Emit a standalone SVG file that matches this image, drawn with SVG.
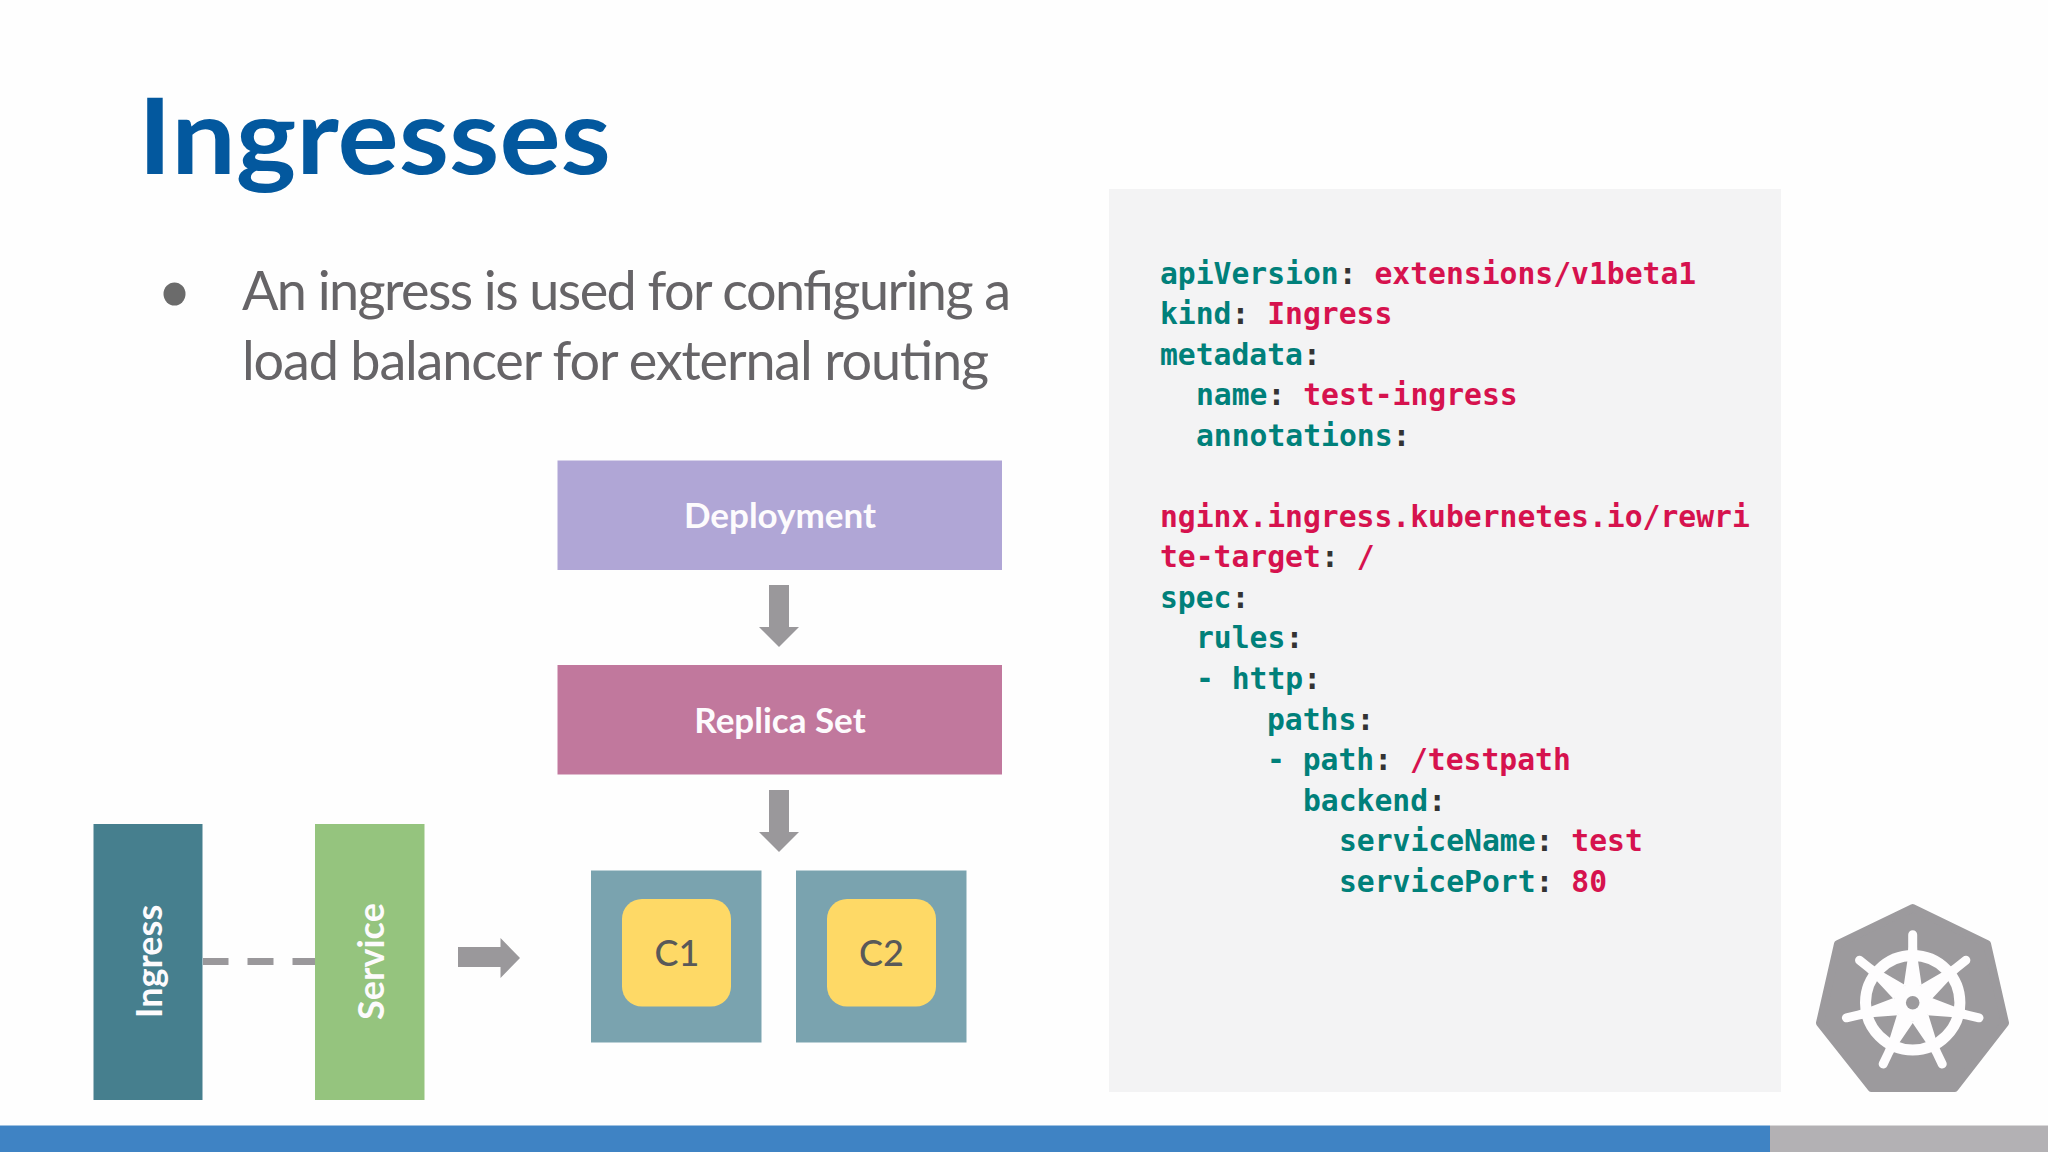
<svg xmlns="http://www.w3.org/2000/svg" xmlns:xlink="http://www.w3.org/1999/xlink" width="2048" height="1152" viewBox="0 0 2048 1152">
<style>
.lbl{font-family:"Lato","Liberation Sans",sans-serif;font-weight:700;font-size:35px;fill:#fdfbfd;text-anchor:middle}
.vl{font-size:36px}
.c{font-family:"Lato","Liberation Sans",sans-serif;font-weight:500;font-size:36px;fill:#595959;text-anchor:middle}
.code{font-family:"DejaVu Sans Mono","Liberation Mono",monospace;font-size:29.7px;font-weight:700}
.k{fill:#00807a}.v{fill:#d6124e}.p{fill:#333}
.arrow{fill:#9a989b}
.pod{fill:#7aa3af}.box{fill:#fed966}
</style>
<defs>
<path id="spoke" d="M-9-17L-5-44L-4.500-56L-4.500-68A4.500 4.500 0 0 1 4.500-68L4.500-56L5-44L9-17Z" fill="#fefdfe"/>
</defs>
<rect width="2048" height="1152" fill="#fefefe"/>
<text x="138" y="173.500" font-family="Lato,'Liberation Sans',sans-serif" font-weight="700" font-size="106" fill="#03589e" textLength="473" lengthAdjust="spacingAndGlyphs">Ingresses</text>
<ellipse cx="174.500" cy="294" rx="11" ry="11.500" fill="#6b6b6b"/>
<g font-family="Lato,'Liberation Sans',sans-serif" font-size="54" fill="#666467">
<text x="242" y="310" textLength="769" lengthAdjust="spacing">An ingress is used for configuring a</text>
<text x="242" y="380" textLength="747" lengthAdjust="spacing">load balancer for external routing</text>
</g>
<g id="connectors">
<path class="arrow" d="M769 585H789V627H799L779 647L759 627H769Z"/>
<path class="arrow" d="M769 790H789V832H799L779 852L759 832H769Z"/>
<path class="arrow" d="M458 947H500.500V938L520 958L500.500 978V967H458Z"/>
<path fill="none" stroke="#9a989b" stroke-width="7" d="M203 961.500H228.500M247.500 961.500H273.500M292.500 961.500H315"/>
</g>
<g id="deployment"><rect x="557.500" y="460.500" width="444.500" height="109.500" fill="#b0a6d6"/><text class="lbl" x="780" y="528">Deployment</text></g>
<g id="replicaset"><rect x="557.500" y="665" width="444.500" height="109.500" fill="#c1789d"/><text class="lbl" x="780" y="733">Replica Set</text></g>
<g id="ingress"><rect x="93.500" y="824" width="109" height="276" fill="#467f8e"/><text class="lbl vl" transform="translate(162 961.500) rotate(-90)">Ingress</text></g>
<g id="service"><rect x="315" y="824" width="109.500" height="276" fill="#95c47e"/><text class="lbl vl" transform="translate(384 961.500) rotate(-90)">Service</text></g>
<g id="pod1"><rect class="pod" x="591" y="870.500" width="170.500" height="172"/></g>
<g id="c1"><rect class="box" x="622" y="899" width="109" height="107.500" rx="20"/><text class="c" x="677" y="966">C1</text></g>
<g id="pod2"><rect class="pod" x="796" y="870.500" width="170.500" height="172"/></g>
<g id="c2"><rect class="box" x="827" y="899" width="109" height="107.500" rx="20"/><text class="c" x="881.500" y="966">C2</text></g>
<rect x="1109" y="189" width="672" height="903" fill="#f3f3f4"/>
<g class="code">
<text y="283.500"><tspan class="k" x="1160">apiVersion</tspan><tspan class="p">: </tspan><tspan class="v">extensions/v1beta1</tspan></text>
<text y="324"><tspan class="k" x="1160">kind</tspan><tspan class="p">: </tspan><tspan class="v">Ingress</tspan></text>
<text y="364.600"><tspan class="k" x="1160">metadata</tspan><tspan class="p">:</tspan></text>
<text y="405.100"><tspan class="k" x="1196">name</tspan><tspan class="p">: </tspan><tspan class="v">test-ingress</tspan></text>
<text y="445.700"><tspan class="k" x="1196">annotations</tspan><tspan class="p">:</tspan></text>
<text y="526.800"><tspan class="v" x="1160">nginx.ingress.kubernetes.io/rewri</tspan></text>
<text y="567.300"><tspan class="v" x="1160">te-target</tspan><tspan class="p">: </tspan><tspan class="v">/</tspan></text>
<text y="607.900"><tspan class="k" x="1160">spec</tspan><tspan class="p">:</tspan></text>
<text y="648.400"><tspan class="k" x="1196">rules</tspan><tspan class="p">:</tspan></text>
<text y="689"><tspan class="k" x="1196">- http</tspan><tspan class="p">:</tspan></text>
<text y="729.500"><tspan class="k" x="1267">paths</tspan><tspan class="p">:</tspan></text>
<text y="770"><tspan class="k" x="1267">- path</tspan><tspan class="p">: </tspan><tspan class="v">/testpath</tspan></text>
<text y="810.600"><tspan class="k" x="1303">backend</tspan><tspan class="p">:</tspan></text>
<text y="851.100"><tspan class="k" x="1339">serviceName</tspan><tspan class="p">: </tspan><tspan class="v">test</tspan></text>
<text y="891.700"><tspan class="k" x="1339">servicePort</tspan><tspan class="p">: </tspan><tspan class="v">80</tspan></text>
</g>
<g id="logo">
<path d="M1912.700 908L1987 944L2005 1023L1954.500 1088H1871.500L1820 1023L1838 944Z" fill="#9c9a9d" stroke="#9c9a9d" stroke-width="8" stroke-linejoin="round"/>
<g transform="translate(1912.700 1002.700)">
<circle r="47.200" fill="none" stroke="#fefdfe" stroke-width="11"/>
<circle r="19" fill="#fefdfe"/>
<use xlink:href="#spoke"/>
<use xlink:href="#spoke" transform="rotate(51.43)"/>
<use xlink:href="#spoke" transform="rotate(102.86)"/>
<use xlink:href="#spoke" transform="rotate(154.29)"/>
<use xlink:href="#spoke" transform="rotate(205.71)"/>
<use xlink:href="#spoke" transform="rotate(257.14)"/>
<use xlink:href="#spoke" transform="rotate(308.57)"/>
<circle r="6.800" fill="#9c9a9d"/>
</g>
</g>
<rect y="1125.500" width="1770" height="26.500" fill="#3f83c4"/>
<rect x="1770" y="1125.500" width="278" height="26.500" fill="#b3b1b4"/>
</svg>
